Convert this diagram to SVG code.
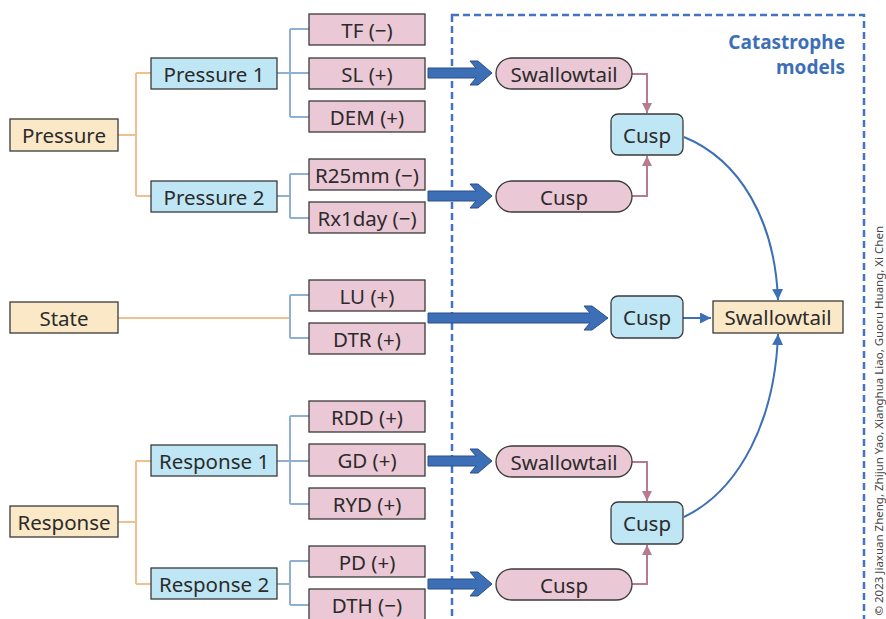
<svg xmlns="http://www.w3.org/2000/svg" width="886" height="619" viewBox="0 0 886 619">
<style>
text{font-family:"Noto Sans","Liberation Sans",sans-serif;font-size:20.5px;fill:#2b2b2b;text-anchor:middle;dominant-baseline:central}
.o{fill:#fbe8c7;stroke:#3a3a3a;stroke-width:1.3}
.b{fill:#bfe6f5;stroke:#3a3a3a;stroke-width:1.3}
.p{fill:#ebc8d5;stroke:#3a3a3a;stroke-width:1.3}
.lo{fill:none;stroke:#f0c08e;stroke-width:2}
.lb{fill:none;stroke:#8fb0d0;stroke-width:2}
.lp{fill:none;stroke:#b87a8e;stroke-width:2}
.lc{fill:none;stroke:#3d6fb6;stroke-width:2}
.fat{fill:#3d6fb6;stroke:#2a4f8a;stroke-width:1}
</style>
<defs>
<marker id="mp" viewBox="0 0 10 10" refX="10" refY="5" markerWidth="5" markerHeight="5" orient="auto" markerUnits="strokeWidth"><path d="M0,0L10,5L0,10z" fill="#b87a8e"/></marker>
<marker id="mc" viewBox="0 0 10 10" refX="10" refY="5" markerWidth="5.5" markerHeight="5.5" orient="auto" markerUnits="strokeWidth"><path d="M0,0L10,5L0,10z" fill="#3d6fb6"/></marker>
<path id="fa" d="M0,-5H48L42,-12H50L64,0L50,12H42L48,5H0z"/>
</defs>
<rect x="452" y="15" width="412" height="620" fill="none" stroke="#4472c4" stroke-width="2.5" stroke-dasharray="7,4"/>
<text x="845" y="42" style="text-anchor:end;font-weight:bold;fill:#3d6fb6;font-size:19px">Catastrophe</text>
<text x="845" y="67" style="text-anchor:end;font-weight:bold;fill:#3d6fb6;font-size:19px">models</text>
<g id="connectors">
<path class="lo" d="M118,135H136M136,73V196M136,73H151M136,196H151"/>
<path class="lo" d="M118,318H290"/>
<path class="lo" d="M118,522H136M136,461V584M136,461H151M136,584H151"/>
<path class="lb" d="M277,73H309M290,29V117M290,29H309M290,117H309"/>
<path class="lb" d="M277,196H290M290,174V218M290,174H309M290,218H309"/>
<path class="lb" d="M290,295V338M290,295H309M290,338H309"/>
<path class="lb" d="M277,461H309M290,416V504M290,416H309M290,504H309"/>
<path class="lb" d="M277,584H290M290,561V605M290,561H309M290,605H309"/>
<use href="#fa" class="fat" transform="translate(428,73)"/>
<use href="#fa" class="fat" transform="translate(428,196)"/>
<use href="#fa" class="fat" transform="translate(428,461)"/>
<use href="#fa" class="fat" transform="translate(428,584)"/>
<path class="fat" d="M428,313H590L584,306H592L608,318L592,330H584L590,323H428z"/>
<path class="lp" d="M632,74H647V113" marker-end="url(#mp)"/>
<path class="lp" d="M632,196H647V156" marker-end="url(#mp)"/>
<path class="lp" d="M632,462H647V501" marker-end="url(#mp)"/>
<path class="lp" d="M632,584H647V545" marker-end="url(#mp)"/>
<path class="lc" d="M683,318H711" marker-end="url(#mc)"/>
<path class="lc" d="M684,137C740,160 775,220 778,300" marker-end="url(#mc)"/>
<path class="lc" d="M684,517C740,490 775,420 778,334" marker-end="url(#mc)"/>
</g>
<g id="n-pressure"><rect class="o" x="10" y="119" width="108" height="32"/><text x="64" y="135">Pressure</text></g>
<g id="n-pressure1"><rect class="b" x="151" y="58" width="126" height="31"/><text x="214" y="73.5">Pressure 1</text></g>
<g id="n-pressure2"><rect class="b" x="151" y="181" width="126" height="31"/><text x="214" y="196.5">Pressure 2</text></g>
<g id="n-tf"><rect class="p" x="309" y="14" width="116" height="31"/><text x="367" y="29.5">TF (−)</text></g>
<g id="n-sl"><rect class="p" x="309" y="58" width="116" height="31"/><text x="367" y="73.5">SL (+)</text></g>
<g id="n-dem"><rect class="p" x="309" y="101" width="116" height="31"/><text x="367" y="116.5">DEM (+)</text></g>
<g id="n-r25"><rect class="p" x="309" y="159" width="116" height="31"/><text x="367" y="174.5">R25mm (−)</text></g>
<g id="n-rx1"><rect class="p" x="309" y="202" width="116" height="31"/><text x="367" y="217.5">Rx1day (−)</text></g>
<g id="n-state"><rect class="o" x="10" y="302" width="108" height="31"/><text x="64" y="317.5">State</text></g>
<g id="n-lu"><rect class="p" x="309" y="280" width="116" height="31"/><text x="367" y="295.5">LU (+)</text></g>
<g id="n-dtr"><rect class="p" x="309" y="323" width="116" height="31"/><text x="367" y="338.5">DTR (+)</text></g>
<g id="n-response"><rect class="o" x="10" y="506" width="108" height="31"/><text x="64" y="521.5">Response</text></g>
<g id="n-response1"><rect class="b" x="151" y="445" width="126" height="31"/><text x="214" y="460.5">Response 1</text></g>
<g id="n-response2"><rect class="b" x="151" y="568" width="126" height="31"/><text x="214" y="583.5">Response 2</text></g>
<g id="n-rdd"><rect class="p" x="309" y="401" width="116" height="31"/><text x="367" y="416.5">RDD (+)</text></g>
<g id="n-gd"><rect class="p" x="309" y="444" width="116" height="32"/><text x="367" y="460">GD (+)</text></g>
<g id="n-ryd"><rect class="p" x="309" y="488" width="116" height="31"/><text x="367" y="503.5">RYD (+)</text></g>
<g id="n-pd"><rect class="p" x="309" y="546" width="116" height="31"/><text x="367" y="561.5">PD (+)</text></g>
<g id="n-dth"><rect class="p" x="309" y="589" width="116" height="32"/><text x="367" y="605">DTH (−)</text></g>
<g id="n-sw1"><rect class="p" x="496" y="58" width="136" height="31" rx="15.5"/><text x="564" y="73.5">Swallowtail</text></g>
<g id="n-cp1"><rect class="p" x="496" y="181" width="136" height="31" rx="15.5"/><text x="564" y="196.5">Cusp</text></g>
<g id="n-c1"><rect class="b" x="611" y="114" width="72" height="41" rx="7"/><text x="647" y="134.5">Cusp</text></g>
<g id="n-c2"><rect class="b" x="611" y="296" width="72" height="42" rx="7"/><text x="647" y="317">Cusp</text></g>
<g id="n-swf"><rect class="o" x="713" y="301" width="130" height="32"/><text x="778" y="317">Swallowtail</text></g>
<g id="n-sw2"><rect class="p" x="496" y="446" width="136" height="31" rx="15.5"/><text x="564" y="461.5">Swallowtail</text></g>
<g id="n-cp2"><rect class="p" x="496" y="569" width="136" height="31" rx="15.5"/><text x="564" y="584.5">Cusp</text></g>
<g id="n-c3"><rect class="b" x="611" y="502" width="72" height="42" rx="7"/><text x="647" y="523">Cusp</text></g>
<text transform="translate(878,226) rotate(-90)" style="text-anchor:end;font-size:11.5px;fill:#444">© 2023 Jiaxuan Zheng, Zhijun Yao, Xianghua Liao, Guoru Huang, Xi Chen</text>
</svg>
